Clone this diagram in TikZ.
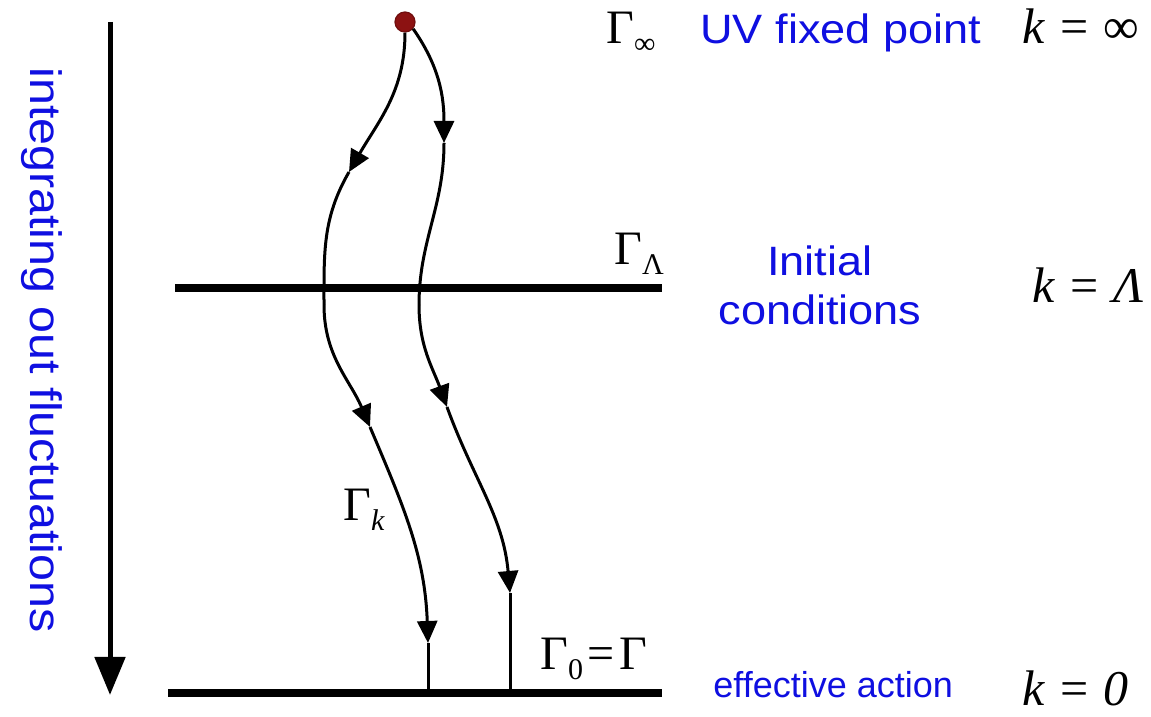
\documentclass[tikz,border=0pt]{standalone}
\usepackage{fontspec}
\usepackage{tikz}
\usetikzlibrary{arrows.meta, positioning}

\newfontfamily\labelfont[FakeStretch=1.1]{Liberation Sans}
\newfontfamily\plainsans{Liberation Sans}
\newfontfamily\symbfont{Liberation Serif}
\definecolor{txtblue}{RGB}{15,15,225}
\definecolor{uvred}{RGB}{140,18,18}
% lowered subscript for the Gamma labels
\newcommand{\lowsub}[1]{\raisebox{-0.2em}{\fontsize{15}{15}\selectfont #1}}

\begin{document}
\begin{tikzpicture}[
		x=0.5pt, y=0.5pt,
		level/.style={line width=4pt},
		flow/.style={line width=1.5pt},
		tip/.style={flow, -{Triangle[width=10pt, length=11pt]}},
		bluetxt/.style={text=txtblue, inner sep=0pt, font=\labelfont\fontsize{20.5}{24.5}\selectfont},
		symtxt/.style={inner sep=0pt, font=\symbfont\fontsize{24}{28}\selectfont},
		ktxt/.style={inner sep=0pt, font=\symbfont\fontsize{25}{30}\selectfont}
	]
	\path[use as bounding box, fill=white] (0,0) rectangle (1151,717);

	% scale direction on the left
	\coordinate (atop) at (110,695);
	\coordinate (abot) at (110,22);
	\draw[line width=2.5pt, -{Triangle[width=15pt, length=19pt]}] (atop) -- (abot);
	\node[bluetxt, font=\labelfont\fontsize{22}{26}\selectfont, rotate=-90, anchor=base]
		(scalelab) at (31,367) {integrating out fluctuations};

	% k = Lambda and k = 0 levels
	\coordinate (lamL) at (175,429);
	\coordinate (lamR) at (662,429);
	\coordinate (zeroL) at (168,24);
	\coordinate (zeroR) at (662,24);
	\draw[level] (lamL) -- (lamR);
	\draw[level] (zeroL) -- (zeroR);

	% UV fixed point
	\node[circle, fill=uvred, draw=uvred!80!black, line width=0.6pt,
		minimum size=10pt, inner sep=0pt] (uv) at (405,695) {};

	% flow on the left
	\coordinate (aL1) at (349,545);
	\coordinate (mL) at (324,412);
	\coordinate (aL2) at (370,290);
	\coordinate (aL3) at (428,74);
	\coordinate (endL) at (428,24);
	\draw[tip] (uv.south) to[out=-90, in=60] (aL1);
	\draw[flow] (aL1) to[out=240, in=90] (mL);
	\draw[tip] (mL) to[out=-90, in=113] (aL2);
	\draw[tip] (aL2) to[out=-67, in=92] (aL3);
	\draw[flow] (aL3) -- (endL);

	% flow on the right
	\coordinate (aR1) at (444,574);
	\coordinate (mR) at (419,412);
	\coordinate (aR2) at (447,310);
	\coordinate (aR3) at (510,124);
	\coordinate (endR) at (510,24);
	\draw[tip] (uv.-40) to[out=-55, in=90] (aR1);
	\draw[flow] (aR1) to[out=-90, in=90] (mR);
	\draw[tip] (mR) to[out=-90, in=110] (aR2);
	\draw[tip] (aR2) to[out=-70, in=95] (aR3);
	\draw[flow] (aR3) -- (endR);

	% labels of the three scales
	\node[symtxt, anchor=base west] (ginf) at (606,673) {Γ\lowsub{∞}};
	\node[bluetxt, anchor=base west] (uvlab) at (700,673) {UV fixed point};
	\node[ktxt, anchor=base west] (kinf) at (1022,673) {\textit{k}\hspace{0.3em}=\hspace{0.3em}∞};

	\node[symtxt, anchor=base west] (glam) at (614,452) {Γ\lowsub{Λ}};
	\node[bluetxt, align=center] (initlab) at (820,432) {Initial\\conditions};
	\node[ktxt, anchor=base west] (klam) at (1032,414) {\textit{k}\hspace{0.3em}=\hspace{0.3em}\textit{Λ}};

	\node[symtxt, anchor=base west] (gk) at (343,196) {Γ\lowsub{\textit{k}}};

	\node[symtxt, anchor=base west] (gzero) at (540,47) {Γ\lowsub{0}\hspace{0.1em}=\hspace{0.1em}Γ};
	\node[inner sep=0pt, text=txtblue, font=\plainsans\fontsize{18}{22}\selectfont, anchor=base west]
		(efflab) at (713,19) {effective action};
	\node[ktxt, anchor=base west] (kzero) at (1022,11) {\textit{k}\hspace{0.3em}=\hspace{0.3em}\textit{0}};
\end{tikzpicture}
\end{document}
